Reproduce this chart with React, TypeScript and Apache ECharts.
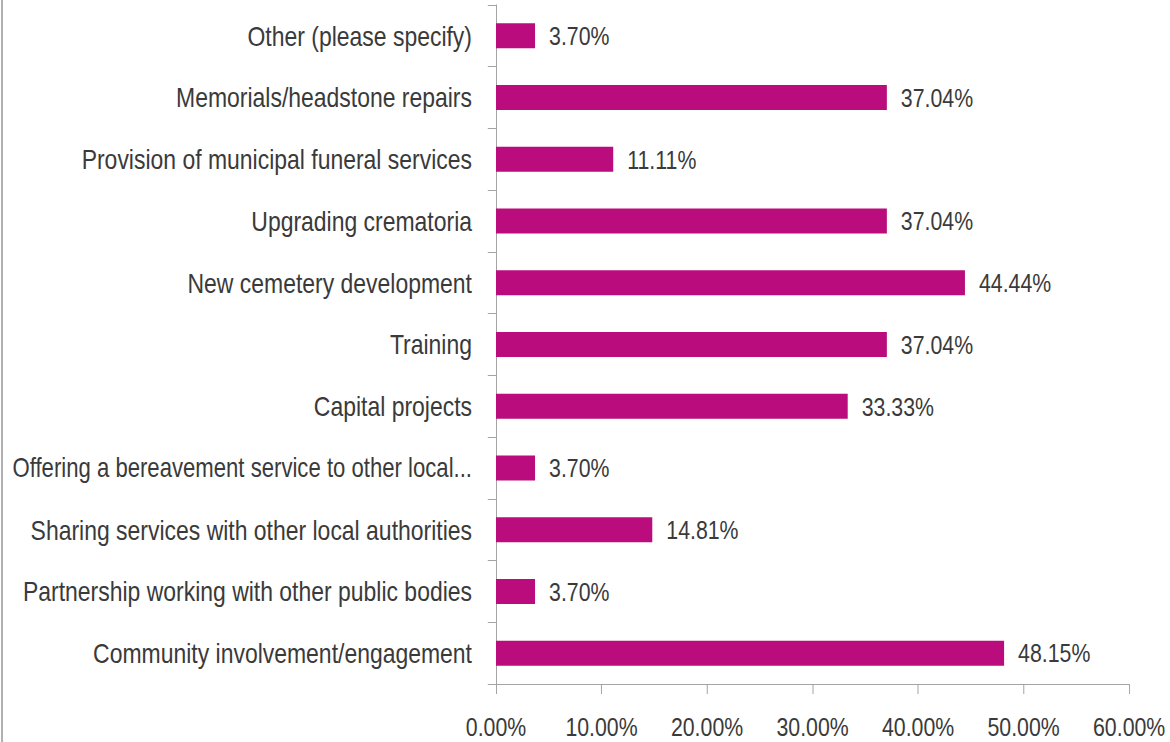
import React, { useEffect, useRef } from "react";
import * as echarts from "echarts";

const categories = [
  "Community involvement/engagement",
  "Partnership working with other public bodies",
  "Sharing services with other local authorities",
  "Offering a bereavement service to other local...",
  "Capital projects",
  "Training",
  "New cemetery development",
  "Upgrading crematoria",
  "Provision of municipal funeral services",
  "Memorials/headstone repairs",
  "Other (please specify)",
];

const values = [48.15, 3.7, 14.81, 3.7, 33.33, 37.04, 44.44, 37.04, 11.11, 37.04, 3.7];

const xTicks = [0, 10, 20, 30, 40, 50, 60];

// horizontal compression to mimic the narrow (Calibri-like) lettering
const SX = 0.82;
const W = 1170 / SX;
const H = 742;

export default function App() {
  const ref = useRef<HTMLDivElement>(null);
  useEffect(() => {
    if (!ref.current) return;
    const chart = echarts.init(ref.current, null, { renderer: "svg" });
    const font = "'Liberation Sans', Arial, sans-serif";
    chart.setOption({
      animation: false,
      backgroundColor: "#ffffff",
      grid: {
        left: 496 / SX,
        right: 41 / SX,
        top: 5,
        bottom: 58,
        containLabel: false,
        outerBoundsMode: "none",
      },
      xAxis: {
        type: "value",
        min: xTicks[0],
        max: xTicks[xTicks.length - 1],
        interval: 10,
        splitLine: { show: false },
        axisLine: { show: true, lineStyle: { color: "#9a9a9a", width: 1 } },
        axisTick: { show: true, length: 10, lineStyle: { color: "#9a9a9a" } },
        axisLabel: {
          margin: 30,
          color: "#3a3a3a",
          fontFamily: font,
          fontSize: 26,
          formatter: (v: number) => v.toFixed(2) + "%",
        },
      },
      yAxis: {
        type: "category",
        data: categories,
        axisLine: { show: true, lineStyle: { color: "#9a9a9a", width: 1 } },
        axisTick: { show: true, length: 10, lineStyle: { color: "#9a9a9a" } },
        axisLabel: {
          margin: 24 / SX,
          color: "#3a3a3a",
          fontFamily: font,
          fontSize: 28,
          formatter: (v: string) => (v.endsWith("...") ? `{n|${v}}` : v),
          rich: {
            n: { fontSize: 27, fontFamily: font, color: "#3a3a3a" },
          },
        },
      },
      series: [
        {
          type: "bar",
          data: values,
          barWidth: 25,
          itemStyle: { color: "#BA0C7D" },
          label: {
            show: true,
            position: "right",
            distance: 14 / SX,
            color: "#3a3a3a",
            fontFamily: font,
            fontSize: 26,
            formatter: (p: any) => p.value.toFixed(2) + "%",
          },
        },
      ],
      graphic: [
        {
          type: "rect",
          shape: { x: 1 / SX, y: 0, width: 2 / SX, height: H },
          style: { fill: "#b0b0b0" },
        },
      ],
    });
    return () => chart.dispose();
  }, []);
  return (
    <div
      style={{ position: "fixed", left: 0, top: 0, width: 1170, height: H, overflow: "hidden", background: "#fff" }}
    >
      <div
        ref={ref}
        style={{
          width: W,
          height: H,
          transform: `scaleX(${SX})`,
          transformOrigin: "0 0",
        }}
      />
    </div>
  );
}
